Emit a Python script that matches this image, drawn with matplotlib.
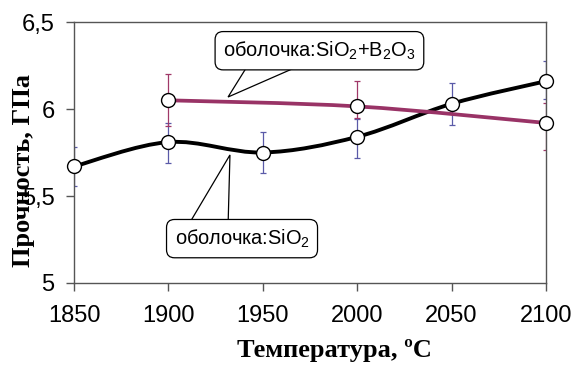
import numpy as np
import matplotlib
matplotlib.use("Agg")
import matplotlib.pyplot as plt
from matplotlib.path import Path
from matplotlib.patches import PathPatch, Polygon

plt.rcParams['font.family'] = ['Liberation Sans', 'DejaVu Sans']
plt.rcParams['mathtext.fontset'] = 'custom'
plt.rcParams['mathtext.rm'] = 'Liberation Sans'
plt.rcParams['mathtext.it'] = 'Liberation Sans'

# data
temp_sio2 = [1850, 1900, 1950, 2000, 2050, 2100]
str_sio2 = [5.67, 5.81, 5.75, 5.84, 6.03, 6.16]
err_sio2_lo = [0.11, 0.12, 0.115, 0.12, 0.12, 0.10]
err_sio2_hi = [0.11, 0.11, 0.115, 0.105, 0.12, 0.115]

temp_sio2b = [1900, 2000, 2100]
str_sio2b = [6.05, 6.015, 5.92]
err_sio2b_lo = [0.15, 0.065, 0.155]
err_sio2b_hi = [0.15, 0.145, 0.115]

xticks = [1850, 1900, 1950, 2000, 2050, 2100]
yticks = [5, 5.5, 6, 6.5]
ylabels = ['5', '5,5', '6', '6,5']


def smooth_path(x, y):
    # excel-like smoothed line: catmull-rom -> cubic bezier
    x = np.asarray(x, float)
    y = np.asarray(y, float)
    n = len(x)
    verts = [(x[0], y[0])]
    codes = [Path.MOVETO]
    for i in range(n - 1):
        p0 = (x[max(i - 1, 0)], y[max(i - 1, 0)])
        p1 = (x[i], y[i])
        p2 = (x[i + 1], y[i + 1])
        p3 = (x[min(i + 2, n - 1)], y[min(i + 2, n - 1)])
        c1 = (p1[0] + (p2[0] - p0[0]) / 6, p1[1] + (p2[1] - p0[1]) / 6)
        c2 = (p2[0] - (p3[0] - p1[0]) / 6, p2[1] - (p3[1] - p1[1]) / 6)
        verts += [c1, c2, p2]
        codes += [Path.CURVE4] * 3
    return Path(verts, codes)


fig = plt.figure(figsize=(5.72, 3.67), dpi=100)
ax = fig.add_axes([0.1294, 0.2289, 0.8251, 0.7111])

ax.errorbar(temp_sio2, str_sio2, yerr=[err_sio2_lo, err_sio2_hi], fmt='none',
            ecolor='#5a5aa8', elinewidth=0.9, capsize=2.5, capthick=0.9, zorder=2)
ax.errorbar(temp_sio2b, str_sio2b, yerr=[err_sio2b_lo, err_sio2b_hi], fmt='none',
            ecolor='#a03868', elinewidth=0.9, capsize=2.5, capthick=0.9, zorder=2)

ax.add_patch(PathPatch(smooth_path(temp_sio2, str_sio2), fc='none', ec='black',
                       lw=2.8, zorder=3))
ax.add_patch(PathPatch(smooth_path(temp_sio2b, str_sio2b), fc='none', ec='#993366',
                       lw=2.7, zorder=3))

ax.plot(temp_sio2, str_sio2, ls='none', marker='o', ms=10, mfc='white', mec='black',
        mew=1.0, zorder=4, clip_on=False)
ax.plot(temp_sio2b, str_sio2b, ls='none', marker='o', ms=10, mfc='white', mec='black',
        mew=1.0, zorder=4, clip_on=False)

ax.set_xlim(1850, 2100)
ax.set_ylim(5, 6.5)
ax.set_xticks(xticks)
ax.set_yticks(yticks)
ax.set_yticklabels(ylabels)
ax.tick_params(labelsize=17, length=6, width=1, color='#555555')
ax.tick_params(axis='x', pad=10)
ax.tick_params(axis='y', pad=8)
for s in ax.spines.values():
    s.set_color('#555555')
    s.set_linewidth(1)

ax.set_xlabel('Температура, ºС', family=['Liberation Serif'], fontweight='bold',
              fontsize=19)
ax.xaxis.set_label_coords(0.551, -0.215)
ax.set_ylabel('Прочность, ГПа', family=['Liberation Serif'], fontweight='bold',
              fontsize=19)
ax.yaxis.set_label_coords(-0.083, 0.43)

# callouts
box = dict(boxstyle='round,pad=0.4,rounding_size=0.4', fc='white', ec='black', lw=0.9)
ax.add_patch(Polygon([(1942, 6.25), (1969.7, 6.25), (1931.6, 6.069)], closed=True,
                     fc='white', ec='black', lw=0.9, zorder=4.5))
ax.add_patch(Polygon([(1910.4, 5.33), (1931.6, 5.33), (1932.6, 5.736)], closed=True,
                     fc='white', ec='black', lw=0.9, zorder=4.5))
ax.text(1980, 6.335, 'оболочка:SiO$_2$+B$_2$O$_3$', fontsize=14.4, ha='center',
        va='center', bbox=box, zorder=5)
ax.text(1939, 5.255, 'оболочка:SiO$_2$', fontsize=14.4, ha='center', va='center',
        bbox=box, zorder=5)

fig.savefig('out.png', dpi=100)
